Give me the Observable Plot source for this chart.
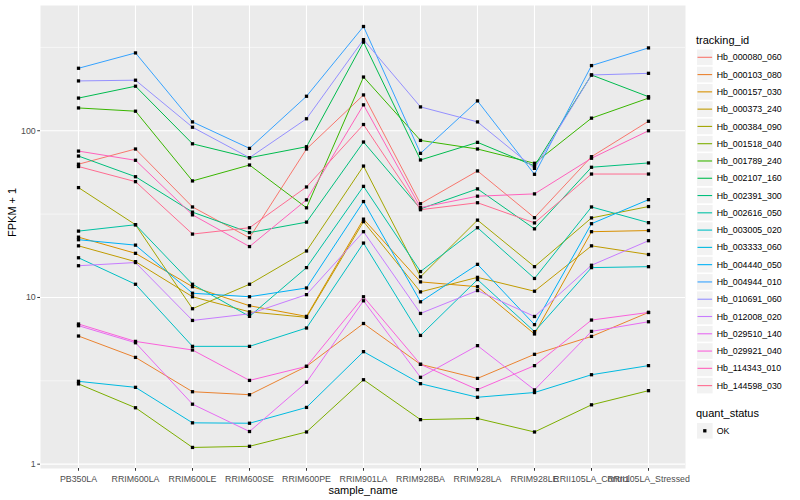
<!DOCTYPE html>
<html><head><meta charset="utf-8">
<script src="https://cdn.jsdelivr.net/npm/d3@7"></script>
<script src="https://cdn.jsdelivr.net/npm/@observablehq/plot@0.6"></script>
<style>
body{margin:0;background:#fff;}
#chart{position:relative;width:800px;height:500px;}
</style></head><body><div id="chart"></div>
<script>
const samples = ["PB350LA","RRIM600LA","RRIM600LE","RRIM600SE","RRIM600PE","RRIM901LA","RRIM928BA","RRIM928LA","RRIM928LE","RRII105LA_Control","RRII105LA_Stressed"];
const ids = ["Hb_000080_060","Hb_000103_080","Hb_000157_030","Hb_000373_240","Hb_000384_090","Hb_001518_040","Hb_001789_240","Hb_002107_160","Hb_002391_300","Hb_002616_050","Hb_003005_020","Hb_003333_060","Hb_004440_050","Hb_004944_010","Hb_010691_060","Hb_012008_020","Hb_029510_140","Hb_029921_040","Hb_114343_010","Hb_144598_030"];
const colors = ["#F8766D","#EA8331","#D89000","#C09B00","#A3A500","#7CAE00","#39B600","#00BB4E","#00BF7D","#00C1A3","#00BFC4","#00BAE0","#00B0F6","#35A2FF","#9590FF","#C77CFF","#E76BF3","#FA62DB","#FF62BC","#FF6C91"];

const v000080_060 = [63, 77.7, 34.9, 22.8, 77.7, 164, 36.5, 57.4, 30.1, 69.9, 114];
const v000103_080 = [5.87, 4.37, 2.72, 2.61, 3.86, 6.98, 3.97, 3.27, 4.56, 5.84, 8.13];
const v000157_030 = [23, 18.4, 11.6, 8.92, 7.7, 29.5, 12.4, 11.6, 6.04, 24.8, 25.2];
const v000373_240 = [20.4, 16.4, 10.1, 8.2, 7.6, 28.5, 10.8, 13.2, 10.9, 20.4, 18.1];
const v000384_090 = [45.6, 27.3, 8.56, 12.0, 19.0, 61.4, 13.3, 29.1, 15.3, 30.0, 35.1];
const v001518_040 = [3.03, 2.18, 1.26, 1.28, 1.56, 3.21, 1.85, 1.88, 1.56, 2.27, 2.76];
const v001789_240 = [137, 131, 50, 62.3, 34.5, 210, 87.5, 77.7, 63.8, 119, 157];
const v002107_160 = [157, 185, 83.5, 68.9, 80.2, 340, 66.8, 85.2, 61.5, 216, 160];
const v002391_300 = [70.5, 53, 32.5, 24.5, 28.3, 85.6, 34.0, 44.8, 25.8, 60.4, 64.1];
const v002616_050 = [25, 27.3, 12.0, 7.7, 15.1, 46.4, 14.3, 26.2, 13.0, 34.9, 28.1];
const v003005_020 = [17.3, 12.0, 5.09, 5.09, 6.56, 21.2, 5.92, 12.8, 6.24, 15.1, 15.3];
const v003333_060 = [3.14, 2.89, 1.77, 1.76, 2.19, 4.73, 3.04, 2.52, 2.69, 3.44, 3.90];
const v004440_050 = [22.2, 20.6, 10.6, 10.1, 11.4, 37.6, 9.42, 15.8, 6.87, 27.7, 38.6];
const v004944_010 = [237, 293, 113, 78.4, 161, 422, 73.2, 151, 54.8, 246, 314];
const v010691_060 = [199, 201, 105, 68.9, 118, 352, 139, 113, 59.5, 216, 221];
const v012008_020 = [15.5, 16.2, 7.28, 7.98, 10.4, 24.8, 8.02, 11.0, 7.69, 15.6, 21.9];
const v029510_140 = [6.77, 5.35, 2.29, 1.57, 3.10, 9.55, 3.32, 5.14, 2.79, 6.26, 7.15];
const v029921_040 = [6.93, 5.45, 4.84, 3.18, 3.86, 10.1, 3.97, 2.80, 3.90, 7.32, 8.13];
const v114343_010 = [75.5, 66.5, 31.3, 20.2, 38.5, 143, 34.6, 40.5, 41.8, 68.4, 100];
const v144598_030 = [61, 49.5, 24, 26.2, 46, 109, 33.6, 37.0, 28.0, 55.0, 55.0];

const seriesValues = [v000080_060,v000103_080,v000157_030,v000373_240,v000384_090,v001518_040,v001789_240,v002107_160,v002391_300,v002616_050,v003005_020,v003333_060,v004440_050,v004944_010,v010691_060,v012008_020,v029510_140,v029921_040,v114343_010,v144598_030];
const statusLevels = ["OK"];
const yMajor = [1, 10, 100];
const yMinor = [3.162, 31.62, 316.2];

const rows = ids.flatMap((id, i) => seriesValues[i].map((v, j) => ({id, sample: samples[j], value: v, status: statusLevels[0]})));

const FONT = "'Liberation Sans', Arial, Helvetica, sans-serif";

const plot = Plot.plot({
  width: 800, height: 500,
  marginLeft: 40, marginRight: 115, marginTop: 5, marginBottom: 32,
  style: {fontFamily: FONT, fontSize: "8.8px", background: "#fff", color: "#000"},
  x: {type: "point", domain: samples, padding: 0.6, label: null},
  y: {type: "log", domain: [0.942, 564], label: null},
  color: {domain: ids, range: colors},
  marks: [
    Plot.frame({fill: "#EBEBEB", stroke: null}),
    Plot.ruleY(yMinor, {stroke: "#fff", strokeWidth: 0.55}),
    Plot.ruleY(yMajor, {stroke: "#fff", strokeWidth: 1.1}),
    Plot.ruleX(samples, {stroke: "#fff", strokeWidth: 1.1}),
    Plot.line(rows, {x: "sample", y: "value", z: "id", stroke: "id", strokeWidth: 1}),
    Plot.dot(rows, {x: "sample", y: "value", symbol: "square", r: 1.85, fill: "#000", stroke: null}),
    Plot.axisY({ticks: yMajor, tickFormat: d => String(d), tickSize: 2.75, tickPadding: 2, label: null}),
    Plot.axisX({tickSize: 2.75, tickPadding: 4, label: null}),
    Plot.text(["FPKM + 1"], {text: d => d, frameAnchor: "left", dx: -28, rotate: -90, fontSize: 11, fill: "#000"}),
    Plot.text(["sample_name"], {text: d => d, frameAnchor: "bottom", dy: 25, fontSize: 11, fill: "#000"})
  ]
});

const svg = d3.select(plot);
svg.selectAll('g[aria-label="y-axis tick"], g[aria-label="x-axis tick"]').attr("stroke", "#333333");
svg.selectAll('g[aria-label="y-axis tick label"], g[aria-label="x-axis tick label"]').attr("fill", "#4D4D4D");

// Legend: tracking_id
const lg = svg.append("g").attr("font-family", FONT).attr("text-anchor", "start");
const keyX = 697, keyW = 15.6, step = 17.28, firstY = 57.3;
lg.append("text").attr("x", 696).attr("y", 44).attr("font-size", 11).attr("fill", "#000").text("tracking_id");
ids.forEach((id, i) => {
  const cy = firstY + i * step;
  lg.append("rect").attr("x", keyX).attr("y", cy - keyW / 2).attr("width", keyW).attr("height", keyW)
    .attr("fill", "#F2F2F2");
  lg.append("line").attr("x1", keyX + 0.5).attr("x2", keyX + keyW - 0.5).attr("y1", cy).attr("y2", cy)
    .attr("stroke", colors[i]).attr("stroke-width", 1.1);
  lg.append("text").attr("x", 716.7).attr("y", cy).attr("dy", "0.35em").attr("font-size", 8.8)
    .attr("fill", "#000").text(id);
});
// Legend: quant_status
const qTitleY = 417;
lg.append("text").attr("x", 696).attr("y", qTitleY).attr("font-size", 11).attr("fill", "#000").text("quant_status");
statusLevels.forEach((s, i) => {
  const cy = qTitleY + 13.8 + i * step;
  lg.append("rect").attr("x", keyX).attr("y", cy - keyW / 2).attr("width", keyW).attr("height", keyW).attr("fill", "#F2F2F2");
  lg.append("rect").attr("x", keyX + keyW / 2 - 1.65).attr("y", cy - 1.65).attr("width", 3.3).attr("height", 3.3).attr("fill", "#000");
  lg.append("text").attr("x", 716.7).attr("y", cy).attr("dy", "0.35em").attr("font-size", 8.8).attr("fill", "#000").text(s);
});

document.getElementById("chart").appendChild(plot);
</script>
</body></html>
